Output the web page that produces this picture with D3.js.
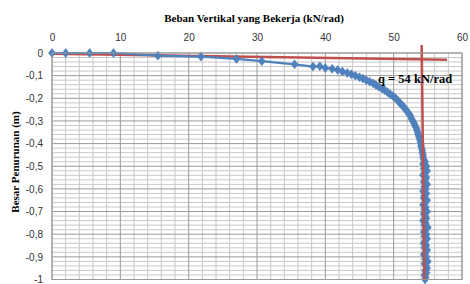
<!DOCTYPE html>
<html>
<head>
<meta charset="utf-8">
<script src="https://cdn.jsdelivr.net/npm/d3@7"></script>
<style>
  body { margin: 0; background: #fff; }
  svg { display: block; }
</style>
</head>
<body>
<svg id="chart" width="470" height="284"></svg>
<script>
// beban (kN/rad) dan penurunan (m)
const bebanAwal = [0, 2, 5.5, 9, 15.5, 21.8, 27, 30.7, 35.5, 38.2, 39.2, 40];
const turunAwal = [0, 0, 0, 0, -0.012, -0.016, -0.026, -0.036, -0.05, -0.06, -0.058, -0.066];

const bebanKurva = [41, 41.8, 42.5, 43.2, 43.8, 44.4, 45, 45.5, 46, 46.5, 47, 47.4, 47.8, 48.3, 48.7,
  49.1, 49.5, 49.9, 50.3, 50.6, 50.9, 51.2, 51.5, 51.8, 52, 52.3, 52.5, 52.6, 52.8, 53, 53.1, 53.3,
  53.4, 53.5, 53.6, 53.7, 53.8, 53.9, 54, 54, 54.1, 54.2, 54.2, 54.3, 54.3, 54.4];
const turunKurva = [-0.07, -0.075, -0.082, -0.088, -0.094, -0.1, -0.107, -0.113, -0.12, -0.127, -0.134,
  -0.141, -0.149, -0.157, -0.165, -0.173, -0.182, -0.19, -0.2, -0.21, -0.22, -0.23, -0.24, -0.25,
  -0.26, -0.27, -0.28, -0.29, -0.3, -0.31, -0.32, -0.33, -0.34, -0.35, -0.36, -0.37, -0.38, -0.39,
  -0.4, -0.41, -0.42, -0.43, -0.44, -0.45, -0.46, -0.47];

// bagian hampir vertikal, turun dari -0,48 sampai -1
const bebanRuntuh = [54.6, 54.3, 54.8, 54.4, 54.9, 54.5, 54.3, 54.8, 54.6, 54.4, 54.9, 54.5, 54.7, 54.3,
  54.8, 54.5, 54.4, 54.9, 54.6, 54.3, 54.7, 54.5, 54.9, 54.4, 54.6, 54.8, 54.3, 54.7, 54.5, 55.0,
  54.6, 54.4, 54.8, 54.5, 54.9, 54.6, 54.4, 54.8, 54.5, 54.9, 54.7, 54.4, 54.8, 54.6, 55.0, 54.5,
  54.7, 54.9, 54.6, 54.8, 54.5, 54.7, 54.6];
const turunRuntuh = [-0.48, -0.49, -0.5, -0.51, -0.52, -0.53, -0.54, -0.55, -0.56, -0.57, -0.58, -0.59,
  -0.6, -0.61, -0.62, -0.63, -0.64, -0.65, -0.66, -0.67, -0.68, -0.69, -0.7, -0.71, -0.72, -0.73,
  -0.74, -0.75, -0.76, -0.77, -0.78, -0.79, -0.8, -0.81, -0.82, -0.83, -0.84, -0.85, -0.86, -0.87,
  -0.88, -0.89, -0.9, -0.91, -0.92, -0.93, -0.94, -0.95, -0.96, -0.97, -0.98, -0.99, -1.0];

// garis bantu merah
const garisDatar = [[0, -0.003], [57.8, -0.03]];
const garisTegak = [[54.1, 0.035], [54.5, -1]];

const xTicks = [0, 10, 20, 30, 40, 50, 60];
const yTicks = [0, -0.1, -0.2, -0.3, -0.4, -0.5, -0.6, -0.7, -0.8, -0.9, -1];

const judulX = "Beban Vertikal yang Bekerja (kN/rad)";
const judulY = "Besar Penurunan (m)";
const labelQ = "q = 54 kN/rad";

const data = []
  .concat(bebanAwal.map((b, i) => ({ x: b, y: turunAwal[i] })))
  .concat(bebanKurva.map((b, i) => ({ x: b, y: turunKurva[i] })))
  .concat(bebanRuntuh.map((b, i) => ({ x: b, y: turunRuntuh[i] })));

const svg = d3.select("#chart");
const kiri = 52, kanan = 462, atas = 53, bawah = 279.5;

const x = d3.scaleLinear().domain([0, 60]).range([kiri, kanan]);
const y = d3.scaleLinear().domain([0, -1]).range([atas, bawah]);

const koma = d3.formatLocale({ decimal: ",", thousands: ".", grouping: [3], currency: ["", ""], minus: "-" });
const fmt = koma.format("~g");

// grid minor
const grid = svg.append("g");
grid.selectAll("line.vx")
  .data(d3.range(2, 60, 2).filter(v => v % 10 !== 0))
  .enter().append("line")
  .attr("x1", d => x(d)).attr("x2", d => x(d))
  .attr("y1", atas).attr("y2", bawah)
  .attr("stroke", "#c8c8c8").attr("stroke-width", 1);
grid.selectAll("line.hy")
  .data(d3.range(1, 50).filter(i => i % 5 !== 0).map(i => -i * 0.02))
  .enter().append("line")
  .attr("x1", kiri).attr("x2", kanan)
  .attr("y1", d => y(d)).attr("y2", d => y(d))
  .attr("stroke", "#c8c8c8").attr("stroke-width", 1);

// grid mayor
grid.selectAll("line.mx")
  .data(xTicks)
  .enter().append("line")
  .attr("x1", d => x(d)).attr("x2", d => x(d))
  .attr("y1", atas).attr("y2", bawah)
  .attr("stroke", "#9a9a9a").attr("stroke-width", 1);
grid.selectAll("line.my")
  .data(yTicks)
  .enter().append("line")
  .attr("x1", kiri).attr("x2", kanan)
  .attr("y1", d => y(d)).attr("y2", d => y(d))
  .attr("stroke", "#9a9a9a").attr("stroke-width", 1);

// sumbu
const xAxis = svg.append("g")
  .attr("transform", `translate(0,${atas})`)
  .call(d3.axisTop(x).tickValues(xTicks).tickFormat(fmt).tickSize(0).tickPadding(12));
const yAxis = svg.append("g")
  .attr("transform", `translate(${kiri},0)`)
  .call(d3.axisLeft(y).tickValues(yTicks).tickFormat(fmt).tickSize(0).tickPadding(9));
[xAxis, yAxis].forEach(a => {
  a.select(".domain").remove();
  a.selectAll("text")
    .attr("font-family", "Liberation Sans, Arial, sans-serif")
    .attr("font-size", 10)
    .attr("fill", "#333");
});

// garis merah
const line = d3.line().x(d => x(d[0])).y(d => y(d[1]));
svg.append("path").datum(garisDatar)
  .attr("d", line).attr("fill", "none")
  .attr("stroke", "#c0504d").attr("stroke-width", 2.5);

// seri data
svg.append("path")
  .datum(data)
  .attr("d", d3.line().x(d => x(d.x)).y(d => y(d.y)))
  .attr("fill", "none")
  .attr("stroke", "#4f81bd")
  .attr("stroke-width", 2.2);

svg.append("g").selectAll("path")
  .data(data)
  .enter().append("path")
  .attr("d", "M0,-4.5L3.5,0L0,4.5L-3.5,0Z")
  .attr("transform", d => `translate(${x(d.x)},${y(d.y)})`)
  .attr("fill", "#4f81bd")
  .attr("stroke", "#4a7ebb")
  .attr("stroke-width", 0.5);

svg.append("path").datum(garisTegak)
  .attr("d", line).attr("fill", "none")
  .attr("stroke", "#c0504d").attr("stroke-width", 2.5);

// bingkai plot
svg.append("rect")
  .attr("x", kiri).attr("y", atas)
  .attr("width", kanan - kiri).attr("height", bawah - atas)
  .attr("fill", "none").attr("stroke", "#9a9a9a");

// judul
svg.append("text")
  .attr("x", 254).attr("y", 22)
  .attr("text-anchor", "middle")
  .attr("font-family", "Liberation Serif, Times New Roman, serif")
  .attr("font-weight", "bold")
  .attr("font-size", 11)
  .text(judulX);

svg.append("text")
  .attr("transform", "translate(19,162) rotate(-90)")
  .attr("text-anchor", "middle")
  .attr("font-family", "Liberation Serif, Times New Roman, serif")
  .attr("font-weight", "bold")
  .attr("font-size", 11)
  .text(judulY);

svg.append("text")
  .attr("x", 378).attr("y", 83)
  .attr("font-family", "Liberation Serif, Times New Roman, serif")
  .attr("font-weight", "bold")
  .attr("font-size", 12.5)
  .text(labelQ);
</script>
</body>
</html>
